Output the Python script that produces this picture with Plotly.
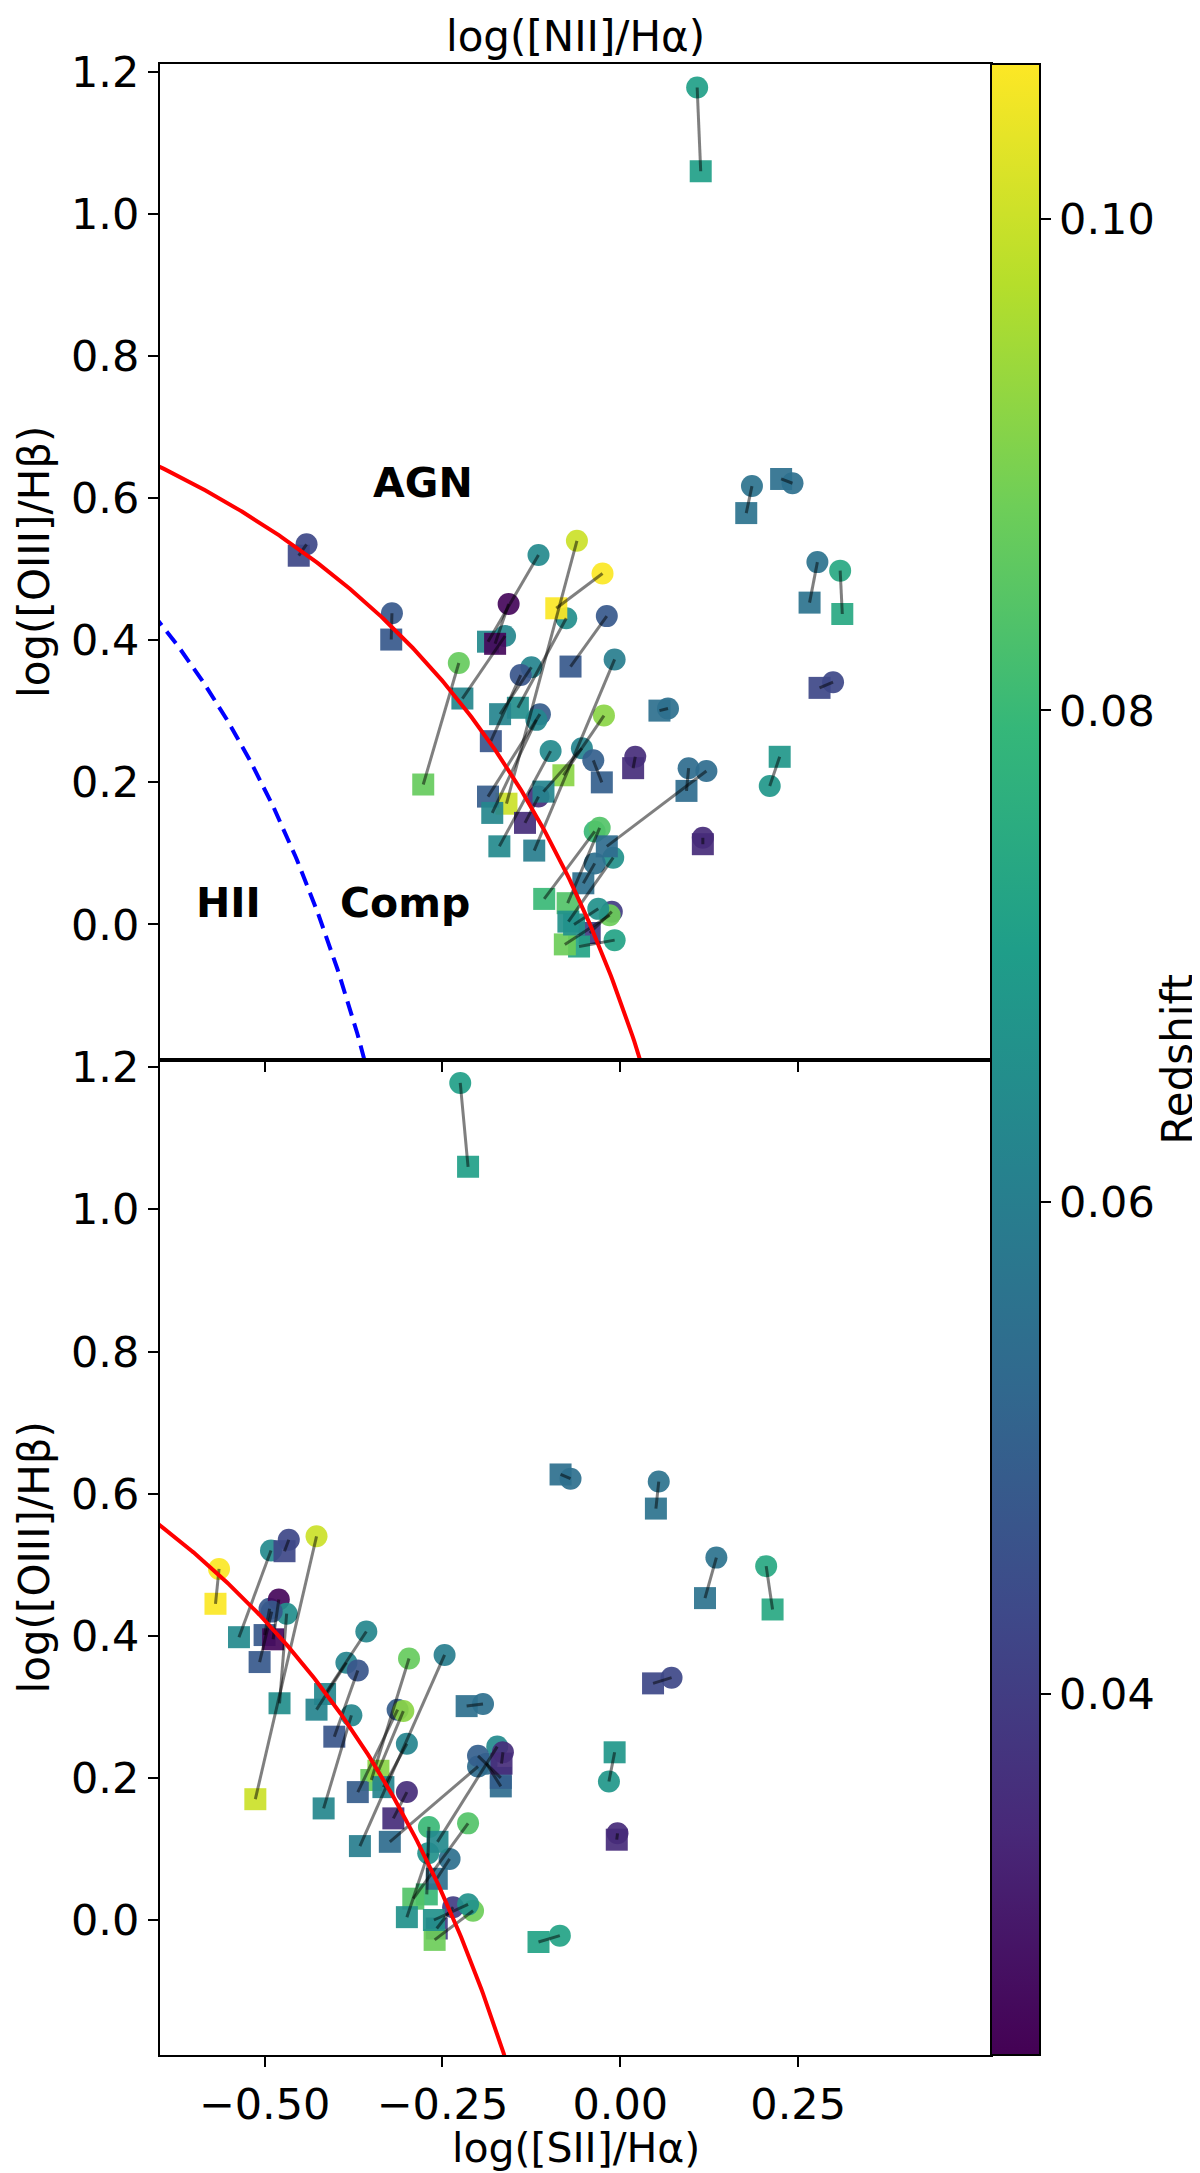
import numpy as np
import plotly.graph_objects as go

# one entry per galaxy: circle = first measurement, square = second
y_circle = [1.178, 0.617, 0.621, 0.510, 0.498, 0.341, 0.304, 0.195, 0.220, 0.216,
            0.122, 0.535, 0.438, 0.368, 0.520, 0.451, 0.540, 0.494, 0.431, 0.434,
            0.406, 0.362, 0.351, 0.373, 0.296, 0.288, 0.294, 0.244, 0.248, 0.231,
            0.236, 0.180, 0.131, 0.136, 0.094, 0.086, 0.018, -0.022, 0.013, 0.022]
y_square = [1.060, 0.579, 0.627, 0.453, 0.437, 0.333, 0.301, 0.236, 0.188, 0.110,
            0.113, 0.519, 0.401, 0.197, 0.398, 0.395, 0.170, 0.445, 0.305, 0.363,
            0.318, 0.296, 0.258, 0.104, 0.180, 0.157, 0.210, 0.110, 0.187, 0.200,
            0.220, 0.143, 0.036, 0.030, 0.004, 0.058, -0.012, -0.031, -0.028, 0.000]

nii_circle = [0.108, 0.185, 0.242, 0.277, 0.309, 0.299, 0.067, 0.210, 0.096, 0.121,
              0.116, -0.441, -0.321, -0.227, -0.115, -0.157, -0.061, -0.025, -0.076, -0.019,
              -0.162, -0.125, -0.140, -0.008, -0.113, -0.118, -0.023, -0.098, -0.054, -0.038,
              0.021, -0.115, -0.036, -0.029, -0.010, -0.036, -0.012, -0.008, -0.015, -0.031]
nii_square = [0.113, 0.177, 0.226, 0.266, 0.312, 0.280, 0.055, 0.224, 0.093, -0.019,
              0.116, -0.452, -0.322, -0.277, -0.186, -0.176, -0.160, -0.090, -0.144, -0.070,
              -0.222, -0.169, -0.182, -0.121, -0.186, -0.180, -0.080, -0.170, -0.108, -0.026,
              0.018, -0.134, -0.107, -0.074, -0.073, -0.052, -0.043, -0.058, -0.078, -0.065]

sii_circle = [-0.225, 0.054, -0.070, 0.135, 0.205, 0.072, -0.193, -0.016, -0.188, -0.200,
              -0.004, -0.466, -0.493, -0.297, -0.491, -0.480, -0.427, -0.564, -0.469, -0.490,
              -0.357, -0.385, -0.369, -0.247, -0.313, -0.378, -0.305, -0.173, -0.300, -0.200,
              -0.165, -0.300, -0.269, -0.214, -0.270, -0.240, -0.235, -0.085, -0.207, -0.214]
sii_square = [-0.214, 0.050, -0.084, 0.119, 0.214, 0.046, -0.216, -0.008, -0.168, -0.324,
              -0.005, -0.472, -0.500, -0.350, -0.536, -0.488, -0.513, -0.569, -0.479, -0.507,
              -0.415, -0.427, -0.402, -0.366, -0.369, -0.417, -0.340, -0.257, -0.333, -0.168,
              -0.167, -0.319, -0.272, -0.291, -0.300, -0.258, -0.258, -0.115, -0.261, -0.262]

redshift = [0.071, 0.056, 0.055, 0.056, 0.074, 0.043, 0.055, 0.068, 0.054, 0.054,
            0.035, 0.043, 0.048, 0.087, 0.064, 0.027, 0.100, 0.106, 0.065, 0.048,
            0.063, 0.062, 0.047, 0.060, 0.049, 0.063, 0.092, 0.064, 0.062, 0.050,
            0.036, 0.036, 0.080, 0.084, 0.066, 0.055, 0.040, 0.072, 0.088, 0.066]

x_ticks = [-0.50, -0.25, 0.00, 0.25]
y_ticks = [0.0, 0.2, 0.4, 0.6, 0.8, 1.0, 1.2]
cbar_ticks = [0.04, 0.06, 0.08, 0.10]

X_RANGE = [-0.647, 0.521]
Y_RANGE = [-0.19, 1.211]
Z_MIN, Z_MAX = 0.0253, 0.1063
FONT = "DejaVu Sans"


# demarcation curves (Kewley 2001 / Kauffmann 2003)
def kewley_nii(x):
    return 0.61 / (x - 0.47) + 1.19


def kauffmann_nii(x):
    return 0.61 / (x - 0.05) + 1.3


def kewley_sii(x):
    return 0.72 / (x - 0.32) + 1.30


def segments(xa, ya, xb, yb):
    xs, ys = [], []
    for x0, y0, x1, y1 in zip(xa, ya, xb, yb):
        xs += [x0, x1, None]
        ys += [y0, y1, None]
    return xs, ys


def marker_trace(x, y, symbol, xaxis, yaxis, showscale=False):
    return go.Scatter(
        x=x, y=y, mode="markers", xaxis=xaxis, yaxis=yaxis, hoverinfo="skip",
        marker=dict(
            symbol=symbol, size=22, opacity=0.92, line=dict(width=0),
            color=redshift, colorscale="Viridis", cmin=Z_MIN, cmax=Z_MAX,
            showscale=showscale,
            colorbar=dict(
                x=1.0, xanchor="left", xpad=0, y=0.5, yanchor="middle", ypad=0,
                len=1, lenmode="fraction", thickness=49,
                outlinecolor="black", outlinewidth=2,
                ticks="outside", ticklen=10, tickwidth=2, tickcolor="black",
                tickvals=cbar_ticks, ticktext=["%.2f" % v for v in cbar_ticks],
                tickfont=dict(size=43, color="black"),
            ),
        ),
    )


def link_trace(xa, ya, xb, yb, xaxis, yaxis):
    xs, ys = segments(xa, ya, xb, yb)
    return go.Scatter(x=xs, y=ys, mode="lines", xaxis=xaxis, yaxis=yaxis,
                      line=dict(color="rgba(0,0,0,0.5)", width=3), hoverinfo="skip")


fig = go.Figure()

# top panel: [NII]
fig.add_trace(marker_trace(nii_circle, y_circle, "circle", "x", "y", showscale=True))
fig.add_trace(marker_trace(nii_square, y_square, "square", "x", "y"))
fig.add_trace(link_trace(nii_circle, y_circle, nii_square, y_square, "x", "y"))

xc = np.linspace(-0.7, 0.4, 400)
fig.add_trace(go.Scatter(x=xc, y=kewley_nii(xc), mode="lines", xaxis="x", yaxis="y",
                         line=dict(color="red", width=4), hoverinfo="skip"))
xk = np.linspace(-0.7, 0.0, 300)
fig.add_trace(go.Scatter(x=xk, y=kauffmann_nii(xk), mode="lines", xaxis="x", yaxis="y",
                         line=dict(color="blue", width=4, dash="15px,8px"), hoverinfo="skip"))

# bottom panel: [SII]
fig.add_trace(marker_trace(sii_circle, y_circle, "circle", "x2", "y2"))
fig.add_trace(marker_trace(sii_square, y_square, "square", "x2", "y2"))
fig.add_trace(link_trace(sii_circle, y_circle, sii_square, y_square, "x2", "y2"))

xs2 = np.linspace(-0.7, 0.25, 400)
fig.add_trace(go.Scatter(x=xs2, y=kewley_sii(xs2), mode="lines", xaxis="x2", yaxis="y2",
                         line=dict(color="red", width=4), hoverinfo="skip"))

axis_common = dict(showline=True, mirror=True, linecolor="black", linewidth=2,
                   ticks="outside", ticklen=10, tickwidth=2, tickcolor="black",
                   showgrid=False, zeroline=False, tickfont=dict(size=43, color="black"))

fig.update_layout(
    width=1200, height=2173,
    margin=dict(l=152, r=217, t=56, b=126, autoexpand=False),
    paper_bgcolor="white", plot_bgcolor="white",
    font=dict(family=FONT, color="black"),
    showlegend=False,
    xaxis=dict(domain=[0, 1], anchor="y", range=X_RANGE, tickvals=x_ticks,
               showticklabels=False, **axis_common),
    yaxis=dict(domain=[0.5, 1], anchor="x", range=Y_RANGE, tickvals=y_ticks, tickformat=".1f",
               title=dict(text="log([OIII]/Hβ)", font=dict(size=42), standoff=8),
               **axis_common),
    xaxis2=dict(domain=[0, 1], anchor="y2", range=X_RANGE, tickvals=x_ticks, tickformat=".2f",
                **axis_common),
    yaxis2=dict(domain=[0, 0.5], anchor="x2", range=Y_RANGE, tickvals=y_ticks, tickformat=".1f",
                title=dict(text="log([OIII]/Hβ)", font=dict(size=42), standoff=8),
                **axis_common),
    annotations=[
        dict(text="log([NII]/Hα)", xref="paper", yref="paper", x=0.5, y=1.014,
             xanchor="center", yanchor="middle", showarrow=False, font=dict(size=42)),
        dict(text="log([SII]/Hα)", xref="paper", yref="paper", x=0.5, y=-0.0468,
             xanchor="center", yanchor="middle", showarrow=False, font=dict(size=41)),
        dict(text="Redshift", xref="paper", yref="paper", x=1.225, y=0.5, textangle=-90,
             xanchor="center", yanchor="middle", showarrow=False, font=dict(size=42)),
        dict(text="<b>AGN</b>", xref="x", yref="y", x=-0.277, y=0.621,
             xanchor="center", yanchor="middle", showarrow=False, font=dict(size=41)),
        dict(text="<b>Comp</b>", xref="x", yref="y", x=-0.303, y=0.03,
             xanchor="center", yanchor="middle", showarrow=False, font=dict(size=41)),
        dict(text="<b>HII</b>", xref="x", yref="y", x=-0.551, y=0.03,
             xanchor="center", yanchor="middle", showarrow=False, font=dict(size=41)),
    ],
)

fig.write_html("out.html")
